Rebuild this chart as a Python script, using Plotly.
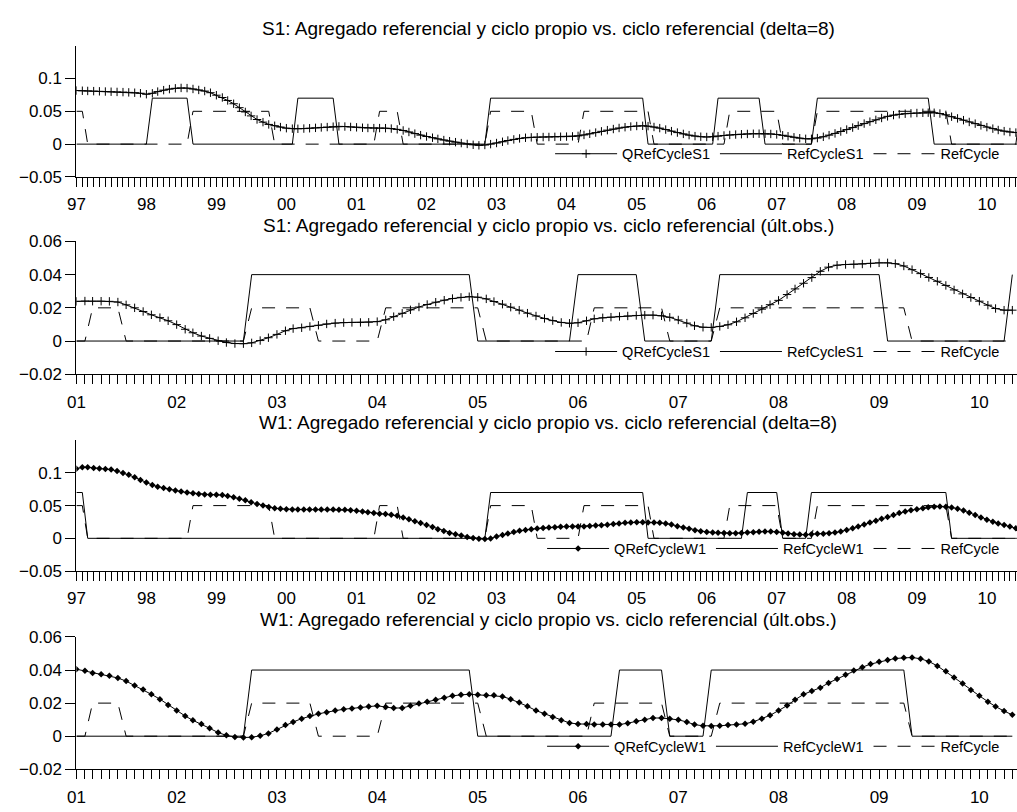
import pandas as pd
import plotly.graph_objects as go

FONT = "Liberation Sans, Arial, Helvetica, sans-serif"
MINUS = "\u2212"

# ---------------------------------------------------------------------------
# Monthly series. "delta=8" panels start Jan-1997, "últ.obs." panels Jan-2001.
# ---------------------------------------------------------------------------

# S1, delta=8
q_s1_delta8 = [
    .0816, .0813, .0810, .0807, .0804, .0801, .0798, .0795, .0792, .0788,
    .0783, .0775, .0760, .0774, .0800, .0822, .0838, .0850, .0856, .0853,
    .0840, .0825, .0808, .0783, .0745, .0710, .0665, .0615, .0555, .0490,
    .0430, .0375, .0335, .0300, .0280, .0260, .0243, .0236, .0234, .0237,
    .0242, .0248, .0254, .0260, .0266, .0270, .0268, .0262, .0256, .0250,
    .0246, .0244, .0244, .0243, .0237, .0225, .0208, .0185, .0160, .0137,
    .0116, .0098, .0080, .0062, .0045, .0030, .0016, .0003, -.0010, -.0018,
    -.0013, .0000, .0017, .0036, .0055, .0072, .0087, .0097, .0103, .0106,
    .0108, .0109, .0111, .0113, .0115, .0118, .0126, .0140, .0157, .0176,
    .0195, .0213, .0230, .0246, .0258, .0268, .0276, .0279, .0274, .0261,
    .0244, .0222, .0198, .0176, .0156, .0137, .0122, .0113, .0109, .0112,
    .0122, .0132, .0140, .0146, .0151, .0155, .0158, .0159, .0158, .0155,
    .0147, .0135, .0120, .0104, .0090, .0081, .0081, .0092, .0112, .0137,
    .0163, .0192, .0222, .0252, .0282, .0313, .0342, .0370, .0398, .0423,
    .0442, .0455, .0463, .0469, .0474, .0477, .0479, .0478, .0466, .0446,
    .0418, .0392, .0365, .0338, .0312, .0285, .0259, .0236, .0215, .0198,
    .0184, .0176,
]
refcycle_s1_delta8 = ([0] * 13 + [0.07] * 7 + [0] * 18 + [0.07] * 7 + [0] * 26
                      + [0.07] * 27 + [0] * 12 + [0.07] * 8 + [0] * 9
                      + [0.07] * 20 + [0] * 15 + [0.07] * 1)
refcycle_delta8 = ([0.05] * 2 + [0] * 18 + [0.05] * 14 + [0] * 18 + [0.05] * 4
                   + [0] * 15 + [0.05] * 8 + [0] * 8 + [0.05] * 12 + [0] * 13
                   + [0.05] * 9 + [0] * 6 + [0.05] * 23 + [0] * 13)

# S1, últ.obs.
q_s1_last = [
    .0239, .0241, .0240, .0240, .0239, .0235, .0218, .0200, .0178, .0158,
    .0141, .0122, .0099, .0071, .0050, .0030, .0016, .0002, -.0009, -.0015,
    -.0016, -.0011, .0003, .0020, .0040, .0062, .0075, .0080, .0088, .0095,
    .0103, .0108, .0111, .0112, .0112, .0113, .0117, .0128, .0147, .0167,
    .0188, .0205, .0220, .0234, .0246, .0256, .0263, .0267, .0264, .0254,
    .0238, .0222, .0204, .0186, .0168, .0151, .0136, .0123, .0112, .0107,
    .0110, .0122, .0134, .0140, .0144, .0148, .0151, .0154, .0156, .0156,
    .0152, .0143, .0127, .0108, .0092, .0083, .0082, .0088, .0098, .0116,
    .0140, .0166, .0192, .0219, .0245, .0280, .0314, .0348, .0382, .0420,
    .0445, .0457, .0461, .0462, .0464, .0468, .0471, .0471, .0466, .0452,
    .0430, .0406, .0383, .0360, .0335, .0308, .0284, .0262, .0240, .0216,
    .0196, .0186, .0186,
]
refcycle_s1_last = ([0] * 21 + [0.04] * 27 + [0] * 12 + [0.04] * 8 + [0] * 9
                    + [0.04] * 20 + [0] * 15 + [0.04] * 1)
refcycle_last = ([0] * 2 + [0.02] * 4 + [0] * 15 + [0.02] * 8 + [0] * 8
                 + [0.02] * 12 + [0] * 13 + [0.02] * 9 + [0] * 6
                 + [0.02] * 23 + [0] * 13)

# W1, delta=8
q_w1_delta8 = [
    .1064, .1085, .1085, .1075, .1066, .1060, .1050, .1028, .0998, .0970,
    .0935, .0893, .0852, .0815, .0790, .0768, .0750, .0731, .0714, .0699,
    .0688, .0678, .0670, .0667, .0667, .0662, .0648, .0628, .0606, .0580,
    .0552, .0525, .0500, .0478, .0460, .0450, .0444, .0442, .0441, .0440,
    .0440, .0440, .0440, .0440, .0439, .0438, .0436, .0430, .0420, .0410,
    .0400, .0388, .0376, .0370, .0360, .0345, .0318, .0290, .0262, .0233,
    .0203, .0172, .0140, .0110, .0082, .0062, .0042, .0022, .0006, -.0006,
    -.0010, -.0004, .0028, .0050, .0072, .0095, .0115, .0128, .0140, .0150,
    .0158, .0165, .0171, .0176, .0179, .0179, .0179, .0182, .0187, .0194,
    .0200, .0208, .0218, .0228, .0236, .0242, .0244, .0245, .0243, .0240,
    .0236, .0226, .0212, .0186, .0166, .0145, .0125, .0108, .0096, .0089,
    .0084, .0080, .0079, .0079, .0081, .0087, .0094, .0100, .0104, .0104,
    .0098, .0086, .0074, .0064, .0057, .0056, .0062, .0068, .0071, .0078,
    .0087, .0105, .0126, .0152, .0182, .0212, .0240, .0268, .0298, .0325,
    .0355, .0385, .0410, .0430, .0444, .0458, .0473, .0484, .0488, .0482,
    .0472, .0452, .0425, .0392, .0357, .0320, .0285, .0255, .0228, .0205,
    .0180, .0154,
]
refcycle_w1_delta8 = ([0.07] * 2 + [0] * 69 + [0.07] * 27 + [0] * 17
                      + [0.07] * 6 + [0] * 5 + [0.07] * 24 + [0] * 12)

# W1, últ.obs.
q_w1_last = [
    .0405, .0395, .0382, .0375, .0366, .0352, .0333, .0307, .0283, .0253,
    .0224, .0189, .0156, .0122, .0096, .0073, .0048, .0022, .0005, -.0005,
    -.0008, -.0006, .0002, .0017, .0041, .0067, .0086, .0106, .0122, .0135,
    .0145, .0155, .0163, .0168, .0174, .0179, .0184, .0176, .0170, .0171,
    .0184, .0197, .0208, .0220, .0232, .0244, .0250, .0253, .0250, .0247,
    .0247, .0240, .0224, .0204, .0181, .0155, .0135, .0116, .0096, .0080,
    .0074, .0073, .0070, .0070, .0070, .0070, .0079, .0090, .0100, .0110,
    .0110, .0106, .0099, .0086, .0070, .0063, .0061, .0063, .0067, .0070,
    .0075, .0087, .0106, .0126, .0155, .0185, .0220, .0253, .0273, .0293,
    .0322, .0346, .0371, .0397, .0417, .0436, .0450, .0460, .0470, .0474,
    .0476, .0468, .0452, .0425, .0392, .0355, .0318, .0280, .0244, .0209,
    .0179, .0152, .0129,
]
refcycle_w1_last = ([0] * 21 + [0.04] * 27 + [0] * 17 + [0.04] * 6 + [0] * 5
                    + [0.04] * 24 + [0] * 13)

titles = [
    "S1: Agregado referencial y ciclo propio vs. ciclo referencial (delta=8)",
    "S1: Agregado referencial y ciclo propio vs. ciclo referencial (últ.obs.)",
    "W1: Agregado referencial y ciclo propio vs. ciclo referencial (delta=8)",
    "W1: Agregado referencial y ciclo propio vs. ciclo referencial (últ.obs.)",
]
ticks_wide = [-0.05, 0, 0.05, 0.1]
ticks_narrow = [-0.02, 0, 0.02, 0.04, 0.06]

panels = [
    dict(start="1997-01-01", end="2010-06-07", q=q_s1_delta8, q_name="QRefCycleS1",
         own=refcycle_s1_delta8, own_name="RefCycleS1", ref=refcycle_delta8,
         symbol="cross-thin", yrange=[-0.05, 0.15], yticks=ticks_wide,
         ydom=[0.78818, 0.95382], title_y=0.9750, legend_y=0.8174),
    dict(start="2001-01-01", end="2010-05-18", q=q_s1_last, q_name="QRefCycleS1",
         own=refcycle_s1_last, own_name="RefCycleS1", ref=refcycle_last,
         symbol="cross-thin", yrange=[-0.02, 0.06], yticks=ticks_narrow,
         ydom=[0.53941, 0.70690], title_y=0.7266, legend_y=0.5680),
    dict(start="1997-01-01", end="2010-06-07", q=q_w1_delta8, q_name="QRefCycleW1",
         own=refcycle_w1_delta8, own_name="RefCycleW1", ref=refcycle_delta8,
         symbol="diamond", yrange=[-0.05, 0.15], yticks=ticks_wide,
         ydom=[0.29126, 0.45628], title_y=0.4782, legend_y=0.3196),
    dict(start="2001-01-01", end="2010-05-18", q=q_w1_last, q_name="QRefCycleW1",
         own=refcycle_w1_last, own_name="RefCycleW1", ref=refcycle_last,
         symbol="diamond", yrange=[-0.02, 0.06], yticks=ticks_narrow,
         ydom=[0.04126, 0.20813], title_y=0.2300, legend_y=0.0702),
]

W, H = 1017, 812
X0 = 68 / W

fig = go.Figure()
layout = dict(
    width=W, height=H,
    margin=dict(l=0, r=0, t=0, b=0),
    paper_bgcolor="white", plot_bgcolor="white",
    font=dict(family=FONT, color="black"),
    annotations=[],
)

def tick_label(v):
    if v == 0:
        return "0"
    s = f"{abs(v):g}"
    return (MINUS + s) if v < 0 else s

for i, p in enumerate(panels, start=1):
    sfx = "" if i == 1 else str(i)
    xa, ya, lg = "x" + sfx, "y" + sfx, "legend" + sfx

    dates_q = pd.date_range(p["start"], periods=len(p["q"]), freq="MS")
    dates_own = pd.date_range(p["start"], periods=len(p["own"]), freq="MS")
    dates_ref = pd.date_range(p["start"], periods=len(p["ref"]), freq="MS")

    fig.add_trace(go.Scatter(
        x=dates_ref, y=p["ref"], name="RefCycle", mode="lines",
        line=dict(color="black", width=1, dash="13px,11px"),
        xaxis=xa, yaxis=ya, legend=lg, legendrank=3, hoverinfo="skip"))
    fig.add_trace(go.Scatter(
        x=dates_own, y=p["own"], name=p["own_name"], mode="lines",
        line=dict(color="black", width=1),
        xaxis=xa, yaxis=ya, legend=lg, legendrank=2, hoverinfo="skip"))
    if p["symbol"] == "diamond":
        marker = dict(symbol="diamond", size=5, color="black", line=dict(width=0))
    else:
        marker = dict(symbol="cross-thin", size=6, color="black",
                      line=dict(width=1, color="black"))
    fig.add_trace(go.Scatter(
        x=dates_q, y=p["q"], name=p["q_name"], mode="lines+markers",
        line=dict(color="black", width=1), marker=marker,
        xaxis=xa, yaxis=ya, legend=lg, legendrank=1, hoverinfo="skip"))

    layout["xaxis" + sfx] = dict(
        domain=[X0, 1.0], anchor=ya, type="date",
        range=[p["start"], p["end"]],
        tick0=p["start"], dtick="M12", tickformat="%y",
        ticks="outside", ticklen=9, tickwidth=1, tickcolor="black",
        ticklabelstandoff=3,
        showline=True, linecolor="black", linewidth=1,
        showgrid=False, zeroline=False,
        tickfont=dict(size=17, family=FONT, color="black"),
        minor=dict(tick0=p["start"], dtick="M1", ticks="outside", ticklen=9,
                   tickwidth=1, tickcolor="black", showgrid=False),
    )
    layout["yaxis" + sfx] = dict(
        domain=p["ydom"], anchor=xa, range=p["yrange"],
        tickmode="array", tickvals=p["yticks"],
        ticktext=[tick_label(v) for v in p["yticks"]],
        ticks="outside", ticklen=10, tickwidth=1, tickcolor="black",
        showline=True, linecolor="black", linewidth=1,
        showgrid=False, zeroline=False,
        tickfont=dict(size=17, family=FONT, color="black"),
    )
    layout[lg] = dict(
        orientation="h", x=1005 / W, xanchor="right",
        y=p["legend_y"], yanchor="middle",
        bgcolor="rgba(0,0,0,0)", borderwidth=0,
        font=dict(size=14.5, family=FONT, color="black"),
        itemwidth=62, traceorder="normal",
    )
    layout["annotations"].append(dict(
        text=titles[i - 1], xref="paper", yref="paper",
        x=544 / W, y=p["title_y"], xanchor="center", yanchor="middle",
        showarrow=False, font=dict(size=19, family=FONT, color="black")))

fig.update_layout(**layout)
fig.write_html("out.html")
